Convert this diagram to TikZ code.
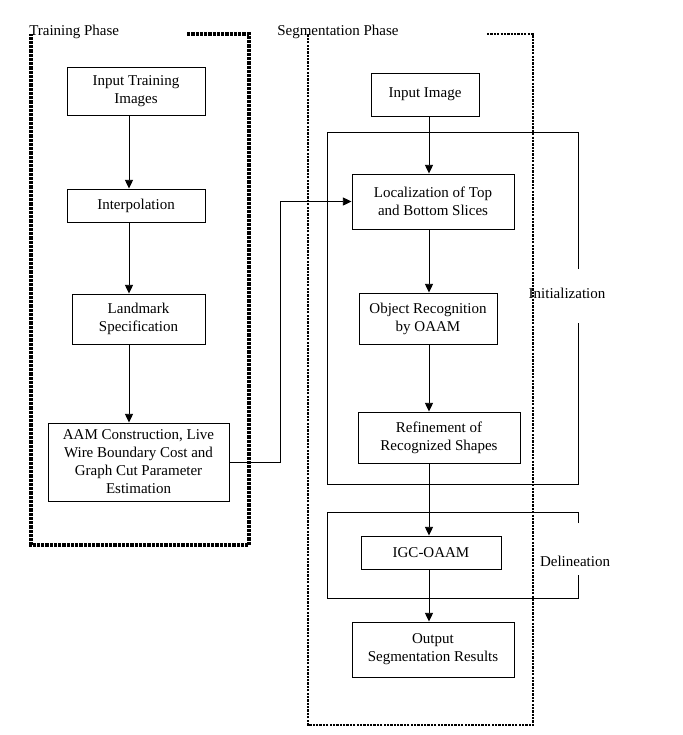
\documentclass[tikz,border=0pt]{standalone}
\usepackage{fontspec}
\setmainfont{Liberation Serif}
\usetikzlibrary{arrows.meta}

\begin{document}
\begin{tikzpicture}[
    x=0.8pt, y=-0.8pt,
    font=\fontsize{12}{14.4}\selectfont,
    block/.style={rectangle, draw=black, line width=0.75pt, align=center, inner sep=0pt},
    groupbox/.style={draw=black, line width=0.75pt},
    phaseline/.style={line width=2.8pt, dash pattern=on 2.6pt off 0.8pt},
    segline/.style={line width=2pt, dash pattern=on 1.8pt off 0.9pt},
    arrow/.style={line width=0.75pt, -{Triangle[length=7pt,width=6.5pt]}}
]
\useasboundingbox (0,0) rectangle (683,735);

% phase frames
\node (trlab) [anchor=west, inner sep=0pt] at (29,32) {Training Phase};
\node (seglab) [anchor=west, inner sep=0pt] at (277,32) {Segmentation Phase};
\draw [phaseline] (187,34) -- (249,34) -- (249,545) -- (31,545) -- (31,34);
\draw [segline] (487,34) -- (533,34) -- (533,725) -- (308,725) -- (308,34);

% training column
\node (inp) [block, minimum width=110.4pt, minimum height=38.4pt] at (136,91) {Input Training\\Images};
\node (intp) [block, minimum width=110.4pt, minimum height=26.4pt] at (136,205.5) {Interpolation};
\node (lmk) [block, minimum width=106.4pt, minimum height=40pt] at (138.5,319) {Landmark\\Specification};
\node (aam) [block, minimum width=144.8pt, minimum height=62.4pt] at (138.5,462) {AAM Construction, Live\\Wire Boundary Cost and\\Graph Cut Parameter\\Estimation};

% segmentation column
\node (img) [block, minimum width=86.4pt, minimum height=34.4pt] at (425,94.5) {Input Image};
\node (loc) [block, minimum width=129.6pt, minimum height=44pt] at (433,201.5) {Localization of Top\\and Bottom Slices};
\node (obj) [block, minimum width=110.4pt, minimum height=40.8pt] at (428,318.5) {Object Recognition\\by OAAM};
\node (ref) [block, minimum width=129.6pt, minimum height=40.8pt] at (439,437.5) {Refinement of\\Recognized Shapes};
\node (igc) [block, minimum width=112pt, minimum height=26.4pt] at (431,552.5) {IGC-OAAM};
\node (out) [block, minimum width=129.6pt, minimum height=44pt] at (433,649.5) {Output\\Segmentation Results};

% stage frames
\draw [groupbox] (578,269) -- (578,132) -- (327,132) -- (327,484) -- (578,484) -- (578,323);
\node (init) [inner sep=0pt] at (567,293) {Initialization};
\draw [groupbox] (578,523) -- (578,512) -- (327,512) -- (327,598) -- (578,598) -- (578,575);
\node (deli) [inner sep=0pt] at (575,561) {Delineation};

% connectors
\coordinate (lx) at (129,0);
\coordinate (rx) at (429,0);
\draw [arrow] (inp.south -| lx) -- (intp.north -| lx);
\draw [arrow] (intp.south -| lx) -- (lmk.north -| lx);
\draw [arrow] (lmk.south -| lx) -- (aam.north -| lx);
\draw [arrow] (aam.east) -- ++(51,0) |- (loc.west);
\draw [arrow] (img.south -| rx) -- (loc.north -| rx);
\draw [arrow] (loc.south -| rx) -- (obj.north -| rx);
\draw [arrow] (obj.south -| rx) -- (ref.north -| rx);
\draw [arrow] (ref.south -| rx) -- (igc.north -| rx);
\draw [arrow] (igc.south -| rx) -- (out.north -| rx);
\end{tikzpicture}
\end{document}
